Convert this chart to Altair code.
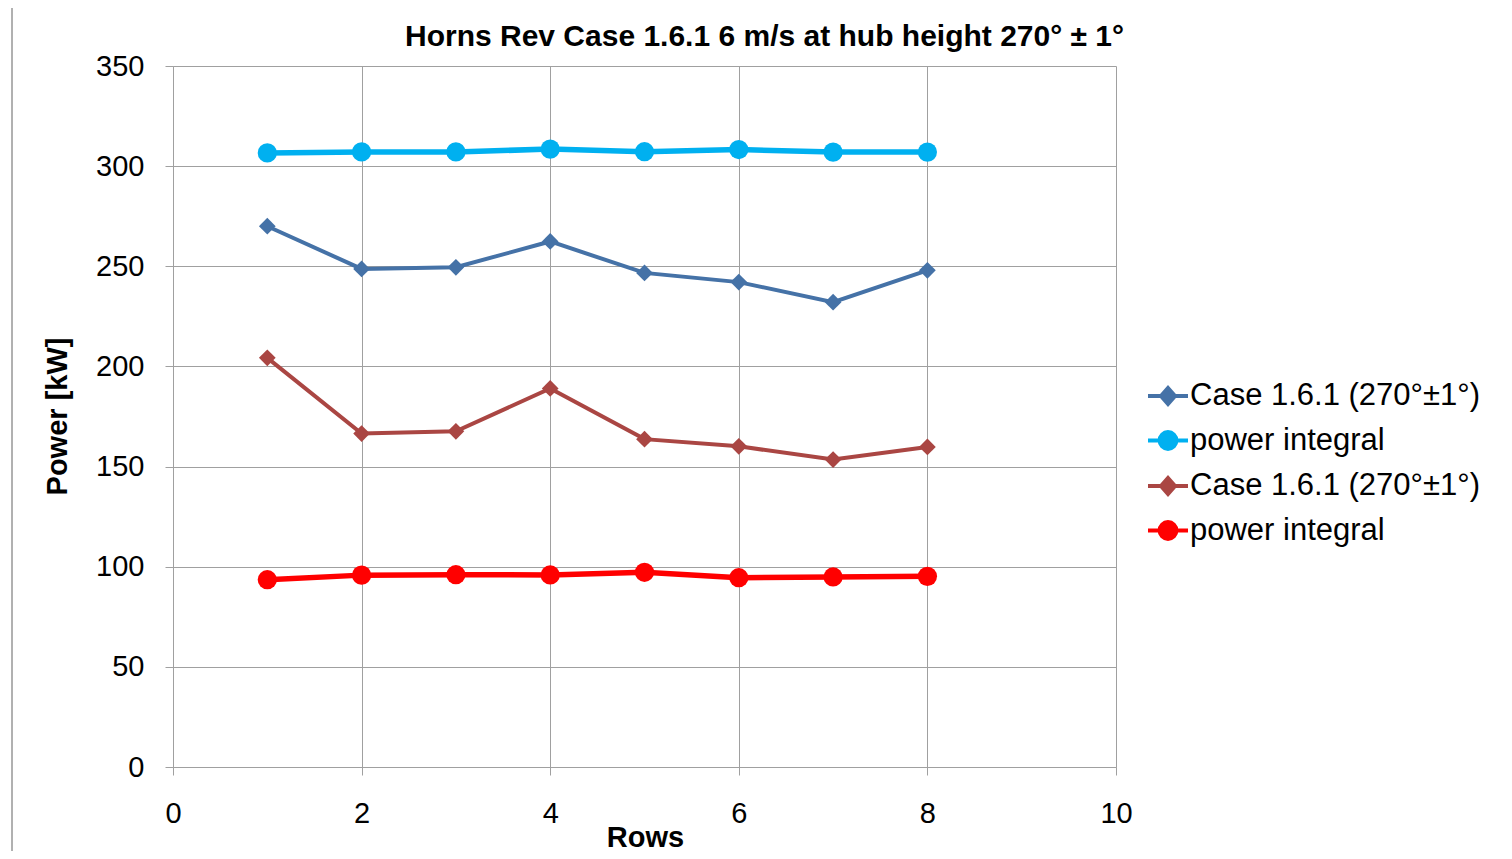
import altair as alt
import pandas as pd

rows = [1, 2, 3, 4, 5, 6, 7, 8]
case_a = [270.0, 248.7, 249.5, 262.4, 246.7, 242.1, 232.1, 248.0]
power_a = [306.6, 307.1, 307.1, 308.5, 307.2, 308.3, 307.0, 307.0]
case_b = [204.3, 166.5, 167.6, 189.0, 163.7, 160.1, 153.5, 159.8]
power_b = [93.5, 95.8, 96.0, 95.9, 97.2, 94.5, 94.9, 95.2]

series_keys = ["s1", "s2", "s3", "s4"]
series_labels = ["Case 1.6.1 (270°±1°)", "power integral", "Case 1.6.1 (270°±1°)", "power integral"]
series_colors = ["#4572A7", "#00B0F0", "#AA4643", "#FF0000"]
x_ticks = [0, 2, 4, 6, 8, 10]
y_ticks = [0, 50, 100, 150, 200, 250, 300, 350]

title_text = "Horns Rev Case 1.6.1 6 m/s at hub height 270° ± 1°"
FONT = "Liberation Sans"
GRID = "#a0a0a0"

values = [case_a, power_a, case_b, power_b]
df = pd.DataFrame(
    [
        {"series": k, "row": r, "power": v}
        for k, vals in zip(series_keys, values)
        for r, v in zip(rows, vals)
    ]
)

label_expr = " : ".join(
    f"datum.value == '{k}' ? '{lab}'" for k, lab in zip(series_keys[:-1], series_labels[:-1])
) + f" : '{series_labels[-1]}'"

diamond_leg = "M-1,0H1M0,-0.4L0.35,0L0,0.4L-0.35,0Z"
circle_leg = "M-1,0H1M0.42,0A0.42,0.42,0,1,1,-0.42,0A0.42,0.42,0,1,1,0.42,0Z"
legend_shapes = [diamond_leg, circle_leg, diamond_leg, circle_leg]

x_enc = alt.X(
    "row:Q",
    scale=alt.Scale(domain=[0, 10], nice=False),
    axis=alt.Axis(
        values=x_ticks,
        title="Rows",
        titleX=472,
        titleY=70,
        titleBaseline="middle",
        labelPadding=24,
        labelFlush=False,
        format="d",
    ),
)
y_enc = alt.Y(
    "power:Q",
    scale=alt.Scale(domain=[0, 350], nice=False),
    axis=alt.Axis(
        values=y_ticks,
        title="Power [kW]",
        titleX=-116,
        titleY=350,
        titleAngle=-90,
        titleAlign="center",
        titleBaseline="middle",
        labelPadding=21,
        format="d",
    ),
)
color_enc = alt.Color(
    "series:N",
    scale=alt.Scale(domain=series_keys, range=series_colors),
    legend=None,
)

base = alt.Chart(df)

thin_keys = [series_keys[0], series_keys[2]]
thick_keys = [series_keys[1], series_keys[3]]

thin_lines = base.transform_filter(
    alt.FieldOneOfPredicate(field="series", oneOf=thin_keys)
).mark_line(strokeWidth=4).encode(x=x_enc, y=y_enc, color=color_enc, detail="series:N")

thick_lines = base.transform_filter(
    alt.FieldOneOfPredicate(field="series", oneOf=thick_keys)
).mark_line(strokeWidth=5.5).encode(x=x_enc, y=y_enc, color=color_enc, detail="series:N")

diamonds = base.transform_filter(
    alt.FieldOneOfPredicate(field="series", oneOf=thin_keys)
).mark_point(shape="diamond", filled=True, size=280, opacity=1).encode(
    x=x_enc, y=y_enc, color=color_enc
)

circles = base.transform_filter(
    alt.FieldOneOfPredicate(field="series", oneOf=thick_keys)
).mark_point(shape="circle", filled=True, size=370, opacity=1).encode(
    x=x_enc, y=y_enc, color=color_enc
)

scale_color_expr = "scale('color', datum.value)"

legend_layer = base.mark_point(filled=True, opacity=0).encode(
    x=x_enc,
    y=y_enc,
    color=color_enc,
    shape=alt.Shape(
        "series:N",
        scale=alt.Scale(domain=series_keys, range=legend_shapes),
        sort=series_keys,
        legend=alt.Legend(
            title=None,
            orient="none",
            legendX=973,
            legendY=308,
            labelExpr=label_expr,
            labelFont=FONT,
            labelFontSize=31,
            labelColor="#000000",
            labelOffset=0,
            symbolSize=1600,
            symbolStrokeWidth=4,
            symbolOpacity=1,
            symbolFillColor=alt.ExprRef(expr=scale_color_expr),
            symbolStrokeColor=alt.ExprRef(expr=scale_color_expr),
            rowPadding=6.5,
            labelLimit=500,
        ),
    ),
)

frame = base.mark_rule(color="#b0b0b0", strokeWidth=1).encode(
    x=alt.value(-161), y=alt.value(-58), y2=alt.value(785)
)

chart = (
    alt.layer(frame, thin_lines, thick_lines, diamonds, circles, legend_layer)
    .resolve_scale(shape="independent")
    .properties(
        width=943,
        height=701,
        autosize=alt.AutoSizeParams(type="none"),
        padding={"left": 165, "top": 58, "right": 382, "bottom": 84},
        title=alt.TitleParams(
            text=title_text,
            font=FONT,
            fontSize=30,
            fontWeight="bold",
            color="#000000",
            anchor="middle",
            dx=120,
            offset=-68,
            baseline="alphabetic",
        ),
    )
    .configure_view(stroke=None)
    .configure_axis(
        grid=True,
        gridColor=GRID,
        gridWidth=1,
        domainColor=GRID,
        domainWidth=1,
        tickColor=GRID,
        tickSize=8,
        labelFont=FONT,
        labelFontSize=29,
        labelColor="#000000",
        titleFont=FONT,
        titleFontSize=29,
        titleFontWeight="bold",
        titleColor="#000000",
    )
)

chart.save("out.html", embed_options={"renderer": "svg", "actions": False})
